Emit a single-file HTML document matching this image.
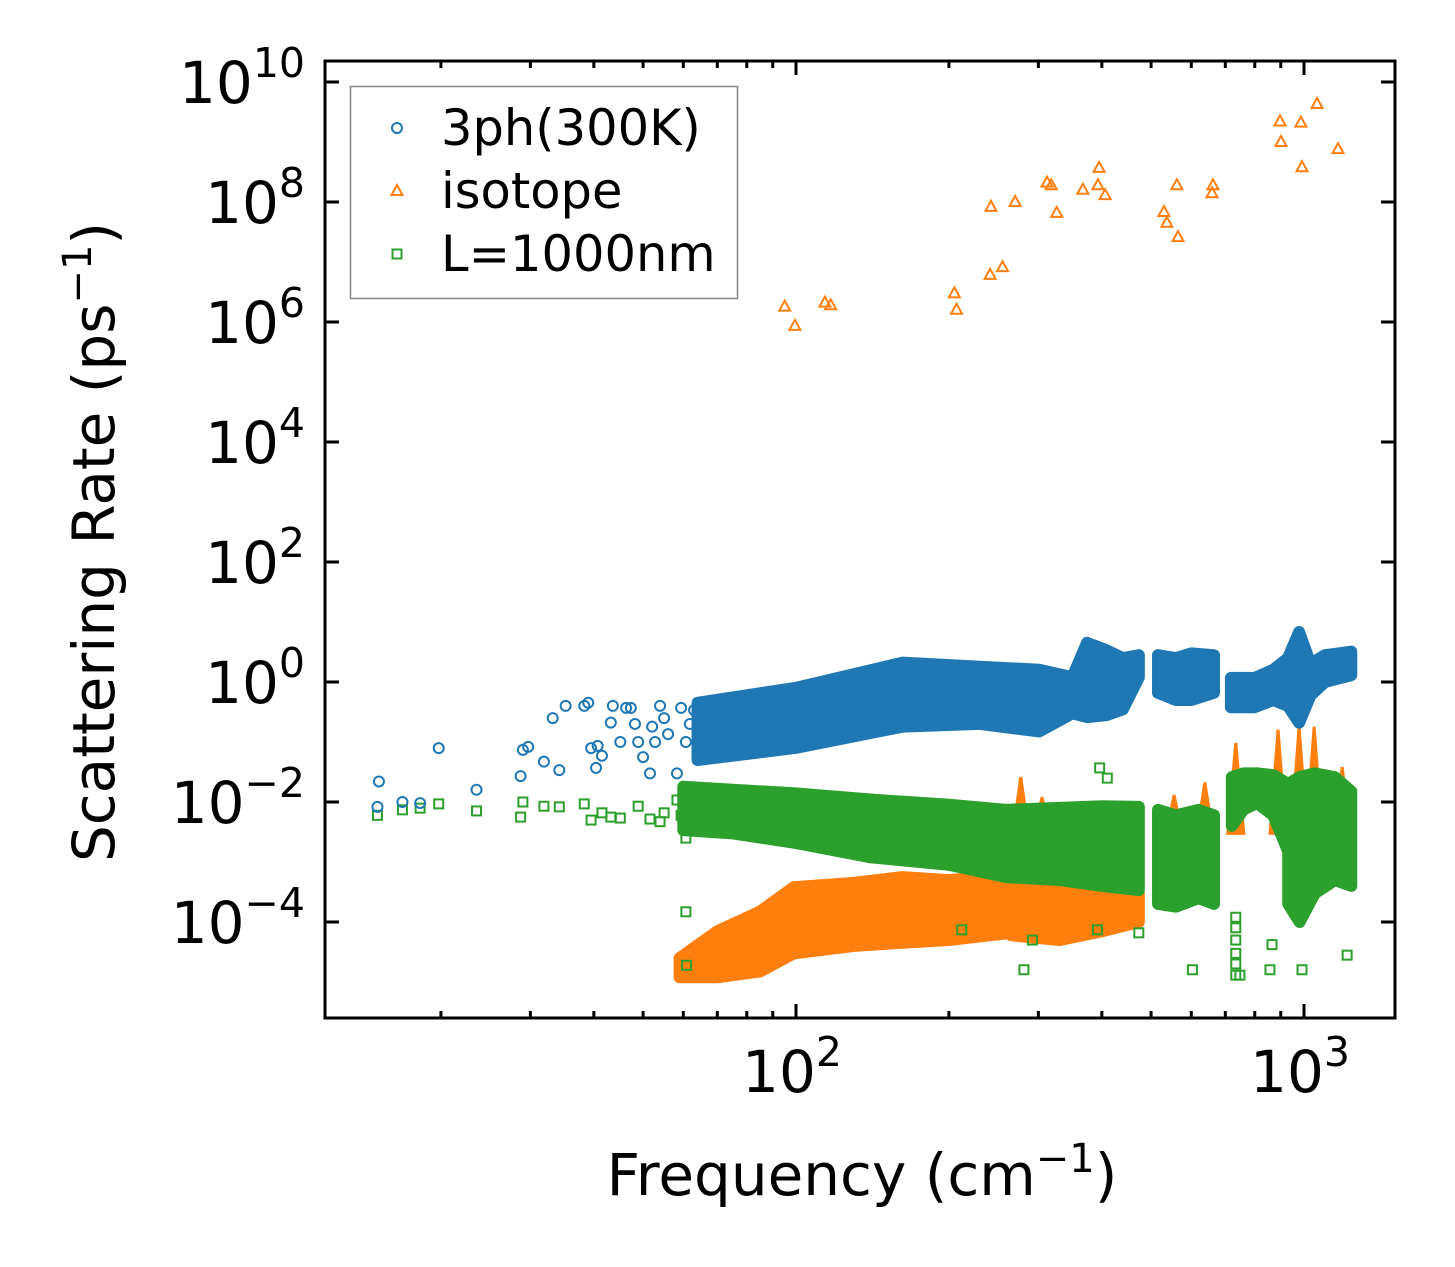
<!DOCTYPE html>
<html><head><meta charset="utf-8"><style>
html,body{margin:0;padding:0;background:#fff;}
svg{display:block;font-family:"DejaVu Sans","Liberation Sans",sans-serif;}
</style></head><body>
<svg id="chart" width="1455" height="1267" viewBox="0 0 1455 1267" xmlns="http://www.w3.org/2000/svg">
<rect width="1455" height="1267" fill="#fff"/>
<g id="marks"></g>
<g id="axes"></g>
</svg>
<script>
// ---- data ----
const blueFreq = [15.0,15.1,16.8,18.2,19.8,23.5,28.7,29.0,29.7,31.9,33.2,34.2,35.2,38.3,39.0,39.5,40.4,40.7,41.5,43.2,43.6,45.1,46.3,47.3,48.2,48.9,50.0,51.6,52.1,52.8,54.0,55.0,56.0,58.3,59.4,60.7,61.8,63.0,65.3,67.8,71.5,76.6];
const blueRate = [0.0083,0.022,0.010,0.0096,0.079,0.016,0.027,0.074,0.083,0.047,0.25,0.034,0.40,0.40,0.45,0.079,0.037,0.086,0.059,0.21,0.40,0.10,0.37,0.37,0.20,0.10,0.056,0.030,0.18,0.10,0.40,0.25,0.135,0.030,0.37,0.10,0.20,0.34,0.089,0.40,0.107,0.5];
const blueBandFreq = [[64,100,162,230,301,350,374,408,440,473],[516,560,600,665],[718,800,870,930,978,1030,1100,1239]];
const blueBandLo = [[0.05,0.08,0.18,0.2,0.15,0.3,0.26,0.28,0.35,1.2],[0.66,0.5,0.5,0.66],[0.38,0.38,0.5,0.4,0.21,0.6,1.0,1.3]];
const blueBandHi = [[0.45,0.8,2.1,1.8,1.6,1.2,4.5,3.4,2.5,2.8],[2.8,2.5,3.0,2.8],[1.17,1.17,1.6,2.5,6.8,2.0,2.8,3.2]];

const orangeFreq = [95,99.5,114,117,205,207,241,255,242,270,312,318,326,367,395,393,406,530,537,565,562,662,659,897,901,986,991,1061,1167];
const orangeRate = [1.8e6,8.6e5,2.1e6,1.9e6,3.0e6,1.6e6,6.1e6,8.2e6,8.3e7,1.0e8,2.1e8,1.9e8,6.6e7,1.6e8,3.7e8,1.9e8,1.3e8,6.8e7,4.5e7,2.6e7,1.9e8,1.9e8,1.4e8,2.2e9,1.0e9,2.1e9,3.8e8,4.3e9,7.6e8];
const orangeBandFreq = [[59,70,85,99,130,162,200,265],[265,330,400,473]];
const orangeBandLo = [[1.2e-5,1.2e-5,1.5e-5,3e-5,4e-5,4.5e-5,5e-5,6.6e-5],[6e-5,5e-5,7e-5,1e-4]];
const orangeBandHi = [[2.5e-5,7e-5,1.5e-4,3.8e-4,4.5e-4,5.6e-4,5e-4,6e-4],[5e-4,4e-4,4e-4,3e-4]];
const orangeSpikeFreq = [277,305,555,638,734,889,978,1047,1189];
const orangeSpikeTop = [0.026,0.012,0.013,0.021,0.096,0.16,0.18,0.18,0.038];

const greenFreq = [15.0,16.8,18.2,19.8,23.5,28.7,29.0,31.9,34.2,38.3,39.5,41.5,43.2,45.1,48.9,51.6,54.0,55.0,58.3,59.4,60.7,61.8,65.3,67.8,71.5,60.7,60.9,281,473,603,748,392,292,212,865,1216,857,991,734,734,734,734,734,734,396,410];
const greenRate = [0.006,0.0074,0.0079,0.0093,0.0071,0.0056,0.010,0.0085,0.0083,0.0093,0.005,0.0066,0.0056,0.0054,0.0085,0.0052,0.0047,0.0066,0.0108,0.006,0.0025,0.0034,0.004,0.0047,0.0047,1.48e-4,1.9e-5,1.6e-5,6.6e-5,1.6e-5,1.3e-5,7.4e-5,5e-5,7.4e-5,4.2e-5,2.8e-5,1.6e-5,1.6e-5,1.2e-4,8e-5,5e-5,3e-5,2e-5,1.3e-5,0.037,0.025];
const greenBandFreq = [[60,75,99,140,200,259,330,400,473],[516,560,620,665],[721,760,809,870,931],[931,980,1050,1150,1239]];
const greenBandLo = [[0.0034,0.003,0.0021,0.0012,0.0009,0.00056,0.0005,0.0004,0.00034],[0.0002,0.00018,0.00025,0.0002],[0.004,0.0075,0.0096,0.006,0.0015],[0.0002,0.0001,0.0003,0.0005,0.0004]];
const greenBandHi = [[0.018,0.016,0.014,0.011,0.009,0.0074,0.008,0.0085,0.0083],[0.0074,0.006,0.0074,0.006],[0.026,0.03,0.03,0.028,0.02],[0.02,0.026,0.03,0.026,0.015]];

const yTickExp = [-4,-2,0,2,4,6,8,10];
const xTickExp = [2,3];
const legendLabels = ["3ph(300K)","isotope","L=1000nm"];

// ---- layout ----
const L=325,R=1395,T=61,B=1018;
const X0=796, DEC_X=508, Y0=682, DEC_Y=60;
const xs = f => X0 + DEC_X*(Math.log10(f)-2);
const ys = v => Y0 - DEC_Y*Math.log10(v);
const NS="http://www.w3.org/2000/svg";
const C={blue:"#1f77b4",orange:"#ff7f0e",green:"#2ca02c"};
const marks=document.getElementById('marks');
const axes=document.getElementById('axes');
function mk(tag,attrs,parent){const e=document.createElementNS(NS,tag);for(const k in attrs)e.setAttribute(k,attrs[k]);parent.appendChild(e);return e;}

const clip=mk('clipPath',{id:'pc'},document.getElementById('chart'));
mk('rect',{x:L,y:T,width:R-L,height:B-T},clip);
marks.setAttribute('clip-path','url(#pc)');

function marker(shape,x,y,col,parent){
  let e;
  if(shape==='circle') e=mk('circle',{cx:x,cy:y,r:5,fill:'none',stroke:col,'stroke-width':2},parent);
  else if(shape==='tri') e=mk('polygon',{points:`${x},${y-6} ${x-5.5},${y+4} ${x+5.5},${y+4}`,fill:'none',stroke:col,'stroke-width':2},parent);
  else e=mk('rect',{x:x-4.5,y:y-4.5,width:9,height:9,fill:'none',stroke:col,'stroke-width':2},parent);
  return e;
}
function bands(fr,lo,hi,col,name,parent){
  for(let s=0;s<fr.length;s++){
    const top=fr[s].map((f,i)=>`${xs(f)},${ys(hi[s][i])}`);
    const bot=fr[s].map((f,i)=>`${xs(f)},${ys(lo[s][i])}`).reverse();
    const p=mk('polygon',{points:top.concat(bot).join(' '),fill:col,stroke:col,'stroke-width':12,'stroke-linejoin':'round'},parent);
    
    
  }
}
// orange
const gO=mk('g',{},marks);


bands(orangeBandFreq,orangeBandLo,orangeBandHi,C.orange,'isotope',gO);
orangeSpikeFreq.forEach((f,i)=>{
  const x=xs(f),yt=ys(orangeSpikeTop[i]),yb=ys(3e-3);
  const p=mk('polygon',{points:`${x},${yt} ${x-8},${yb} ${x+8},${yb}`,fill:C.orange,stroke:C.orange,'stroke-width':3},gO);
  
  
});
orangeFreq.forEach((f,i)=>{
  const m=marker('tri',xs(f),ys(orangeRate[i]),C.orange,gO);
  
  
});
// green
const gG=mk('g',{},marks);


bands(greenBandFreq,greenBandLo,greenBandHi,C.green,'boundary',gG);
greenFreq.forEach((f,i)=>{
  const m=marker('sq',xs(f),ys(greenRate[i]),C.green,gG);
  
  
});
// blue
const gB=mk('g',{},marks);


bands(blueBandFreq,blueBandLo,blueBandHi,C.blue,'3ph',gB);
blueFreq.forEach((f,i)=>{
  const m=marker('circle',xs(f),ys(blueRate[i]),C.blue,gB);
  
  
});

// ---- axes ----
const frame=mk('rect',{x:L,y:T,width:R-L,height:B-T,fill:'none',stroke:'#000','stroke-width':3},axes);


yTickExp.forEach(e=>{
  const y=ys(Math.pow(10,e));
  mk('line',{x1:L,x2:L+14,y1:y,y2:y,stroke:'#000','stroke-width':3},axes);
  mk('line',{x1:R,x2:R-14,y1:y,y2:y,stroke:'#000','stroke-width':3},axes);
  const t=mk('text',{x:305,y:y+21,'text-anchor':'end','font-size':58,fill:'#000'},axes);
  
  
  t.innerHTML=`10<tspan dy="-26" font-size="41">${e<0?'\u2212'+(-e):e}</tspan>`;
});
for(let d=1;d<=3;d++){for(let k=1;k<10;k++){
  const f=k*Math.pow(10,d);const x=xs(f);
  if(x<L+2||x>R-2)continue;
  const len=k===1?14:7;
  mk('line',{x1:x,x2:x,y1:B,y2:B-len,stroke:'#000','stroke-width':3},axes);
  mk('line',{x1:x,x2:x,y1:T,y2:T+len,stroke:'#000','stroke-width':3},axes);
}}
xTickExp.forEach(e=>{
  const x=xs(Math.pow(10,e));
  const t=mk('text',{x:x-4,y:1092,'text-anchor':'middle','font-size':58,fill:'#000'},axes);
  
  
  t.innerHTML=`10<tspan dy="-26" font-size="41">${e}</tspan>`;
});
const xl=mk('text',{x:862,y:1195,'text-anchor':'middle','font-size':58,fill:'#000'},axes);


xl.innerHTML='Frequency (cm<tspan dy="-23" font-size="40">\u22121</tspan><tspan dy="23">)</tspan>';
const yl=mk('text',{x:0,y:0,'text-anchor':'middle','font-size':58,fill:'#000',transform:'translate(114,542) rotate(-90)'},axes);


yl.innerHTML='Scattering Rate (ps<tspan dy="-23" font-size="40">\u22121</tspan><tspan dy="23">)</tspan>';

// legend
const lg=mk('g',{},axes);


mk('rect',{x:350.5,y:86.5,width:387,height:212,fill:'#fff',stroke:'#888','stroke-width':1.5},lg);
const shapes=['circle','tri','sq'],cols=[C.blue,C.orange,C.green];
legendLabels.forEach((lab,i)=>{
  const cy=128+63*i;
  const m=marker(shapes[i],397,cy,cols[i],lg);
  
  
  const t=mk('text',{x:441,y:cy+17,'font-size':49.5,fill:'#000'},lg);
  
  
  t.textContent=lab;
});
</script>
</body></html>
